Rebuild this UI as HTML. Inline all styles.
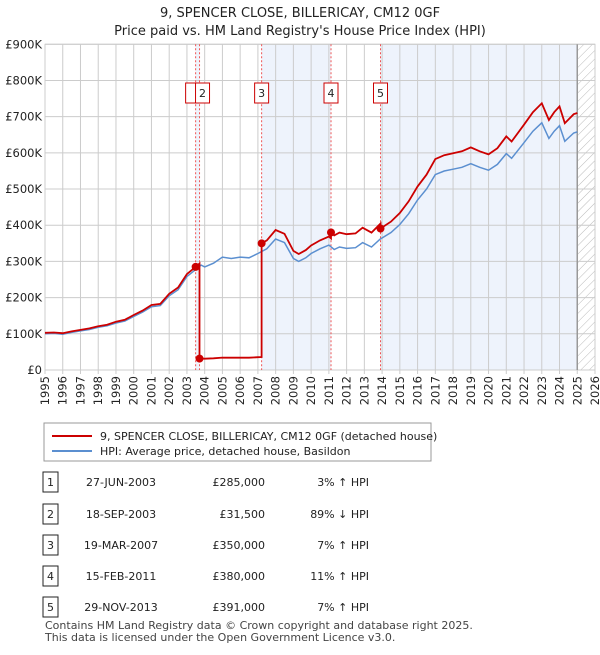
<!DOCTYPE html>
<html><head><meta charset="utf-8"><style>
body{margin:0;background:#fff;font-family:"Liberation Sans","DejaVu Sans",sans-serif;}
svg text{font-family:"DejaVu Sans","Liberation Sans",sans-serif;}
</style></head><body>
<svg id="c" width="600" height="650" xmlns="http://www.w3.org/2000/svg">
<defs><pattern id="hatch" width="6" height="6" patternUnits="userSpaceOnUse" patternTransform="rotate(45)"><line x1="0" y1="0" x2="0" y2="6" stroke="#bbb" stroke-width="1"/></pattern></defs>
<text x="300" y="17" text-anchor="middle" font-size="13" fill="#222">9, SPENCER CLOSE, BILLERICAY, CM12 0GF</text>
<text x="300" y="35" text-anchor="middle" font-size="13" fill="#222">Price paid vs. HM Land Registry's House Price Index (HPI)</text>
<g id="plot"></g>
<rect x="44" y="423" width="387" height="38" fill="#fff" stroke="#999"/>
<line x1="52" y1="436" x2="92" y2="436" stroke="#cc0000" stroke-width="2"/>
<text x="100" y="440" font-size="11" fill="#222">9, SPENCER CLOSE, BILLERICAY, CM12 0GF (detached house)</text>
<line x1="52" y1="451" x2="92" y2="451" stroke="#5b8fd0" stroke-width="2"/>
<text x="100" y="455" font-size="11" fill="#222">HPI: Average price, detached house, Basildon</text>
<g id="tbl"></g>
<text x="45" y="629" font-size="11" fill="#444">Contains HM Land Registry data © Crown copyright and database right 2025.</text>
<text x="45" y="641" font-size="11" fill="#444">This data is licensed under the Open Government Licence v3.0.</text>
</svg>
<script>
const hpiYears=[1995,1995.5,1996,1996.5,1997,1997.5,1998,1998.5,1999,1999.5,2000,2000.5,2001,2001.5,2002,2002.5,2003,2003.5,2003.8,2004,2004.5,2005,2005.5,2006,2006.5,2007,2007.5,2008,2008.5,2009,2009.3,2009.7,2010,2010.5,2011,2011.3,2011.6,2012,2012.5,2012.9,2013.4,2013.9,2014.5,2015,2015.5,2016,2016.5,2017,2017.5,2018,2018.5,2019,2019.5,2020,2020.5,2021,2021.3,2022,2022.5,2023,2023.4,2023.7,2024,2024.3,2024.8,2025];
const hpiValues=[100,101,99,104,108,112,118,122,130,135,148,160,175,178,205,222,258,278,290,285,295,312,308,312,310,322,335,362,352,308,300,310,322,335,345,333,340,336,338,352,340,362,380,402,432,470,500,540,550,555,560,570,560,552,568,598,585,628,660,683,640,660,675,632,655,658];
const saleDates=[2003.49,2003.71,2007.21,2011.12,2013.91];
const salePrices=[285,31.5,350,380,391];
const saleLabels=["1","2","3","4","5"];
const saleDateText=["27-JUN-2003","18-SEP-2003","19-MAR-2007","15-FEB-2011","29-NOV-2013"];
const salePriceText=["£285,000","£31,500","£350,000","£380,000","£391,000"];
const saleHpiText=["3% ↑ HPI","89% ↓ HPI","7% ↑ HPI","11% ↑ HPI","7% ↑ HPI"];
const yTicks=[0,100,200,300,400,500,600,700,800,900];
const yTickLabels=["£0","£100K","£200K","£300K","£400K","£500K","£600K","£700K","£800K","£900K"];
const xTicks=[1995,1996,1997,1998,1999,2000,2001,2002,2003,2004,2005,2006,2007,2008,2009,2010,2011,2012,2013,2014,2015,2016,2017,2018,2019,2020,2021,2022,2023,2024,2025,2026];

const X0=45,X1=595,Y0=370,Y1=44.3;
const sx=t=>X0+(t-1995)*(X1-X0)/31;
const sy=v=>Y0-v*(Y0-Y1)/900;
const NS="http://www.w3.org/2000/svg";
const plot=document.getElementById('plot');
function mk(tag,attrs,parent){const e=document.createElementNS(NS,tag);for(const k in attrs)e.setAttribute(k,attrs[k]);(parent||plot).appendChild(e);return e;}
function hpiAt(t){for(let i=0;i<hpiYears.length-1;i++){if(t<=hpiYears[i+1]){const f=(t-hpiYears[i])/(hpiYears[i+1]-hpiYears[i]);return hpiValues[i]+f*(hpiValues[i+1]-hpiValues[i]);}}return hpiValues[hpiValues.length-1];}

const bands=[[saleDates[0],saleDates[1]],[saleDates[2],saleDates[3]],[saleDates[4],2025]];
bands.forEach((b,i)=>{const r=mk('rect',{x:sx(b[0]),y:Y1,width:sx(b[1])-sx(b[0]),height:Y0-Y1,fill:'#eef3fc'});

});
const h=mk('rect',{x:sx(2025),y:Y1,width:X1-sx(2025),height:Y0-Y1,fill:'url(#hatch)'});


xTicks.forEach((t,i)=>{const l=mk('line',{x1:sx(t),x2:sx(t),y1:Y1,y2:Y0+4,stroke:'#ccc'});


const tx=mk('text',{x:0,y:0,'font-size':11.5,fill:'#222','text-anchor':'end',transform:`translate(${sx(t)+4},${Y0+6}) rotate(-90)`});tx.textContent=t;

});
yTicks.forEach((v,i)=>{const l=mk('line',{x1:X0,x2:X1,y1:sy(v),y2:sy(v),stroke:'#ccc'});


const tx=mk('text',{x:X0-3,y:sy(v)+4,'font-size':11.5,fill:'#222','text-anchor':'end'});tx.textContent=yTickLabels[i];

});
const fr=mk('rect',{x:X0,y:Y1,width:X1-X0,height:Y0-Y1,fill:'none',stroke:'#ccc'});


const el25=mk('line',{x1:sx(2025),x2:sx(2025),y1:Y1,y2:Y0,stroke:'#999','stroke-width':1.5});


saleDates.forEach((d,i)=>{const l=mk('line',{x1:sx(d),x2:sx(d),y1:Y1,y2:Y0,stroke:'#ee5555','stroke-dasharray':'2,2'});


const r=mk('rect',{x:(i===0?sx(d)-10:sx(d)-4-(i>=2?3:0)),y:83,width:14,height:20,fill:'#fff',stroke:'#cc0000'});


const t=mk('text',{x:(i===0?sx(d)-3:sx(d)+3-(i>=2?3:0)),y:97,'font-size':11,fill:'#222','text-anchor':'middle'});t.textContent=i===0?'':saleLabels[i];

});
let pts=hpiYears.map((t,i)=>sx(t).toFixed(1)+','+sy(hpiValues[i]).toFixed(1)).join(' ');
const hl=mk('polyline',{points:pts,fill:'none',stroke:'#5b8fd0','stroke-width':1.5});


let rp=[];
const segStarts=[1995].concat(saleDates);
for(let s=0;s<segStarts.length;s++){
  const idx=s===0?0:s-1;
  const f=salePrices[idx]/hpiAt(saleDates[idx]);
  const a=segStarts[s], b=s+1<segStarts.length?segStarts[s+1]:2025;
  const ts=[a].concat(hpiYears.filter(t=>t>a&&t<b)).concat([b]);
  ts.forEach(t=>rp.push(sx(t).toFixed(1)+','+sy(hpiAt(t)*f).toFixed(1)));
}
const rl=mk('polyline',{points:rp.join(' '),fill:'none',stroke:'#cc0000','stroke-width':1.8});


saleDates.forEach((d,i)=>{const c=mk('circle',{cx:sx(d),cy:sy(salePrices[i]),r:4,fill:'#cc0000'});

});
const tbl=document.getElementById('tbl');
const rowY=[482,514,545,576,607];
saleLabels.forEach((s,i)=>{const y=rowY[i];
const r=mk('rect',{x:43,y:y-10,width:15,height:20,fill:'#fff',stroke:'#222'},tbl);


const a=mk('text',{x:50.5,y:y+4,'font-size':11,fill:'#222','text-anchor':'middle'},tbl);a.textContent=s;


const b=mk('text',{x:121,y:y+4,'font-size':11,fill:'#222','text-anchor':'middle'},tbl);b.textContent=saleDateText[i];


const c=mk('text',{x:265,y:y+4,'font-size':11,fill:'#222','text-anchor':'end'},tbl);c.textContent=salePriceText[i];


const d=mk('text',{x:369,y:y+4,'font-size':11,fill:'#222','text-anchor':'end'},tbl);d.textContent=saleHpiText[i];

});
</script>
</body></html>
